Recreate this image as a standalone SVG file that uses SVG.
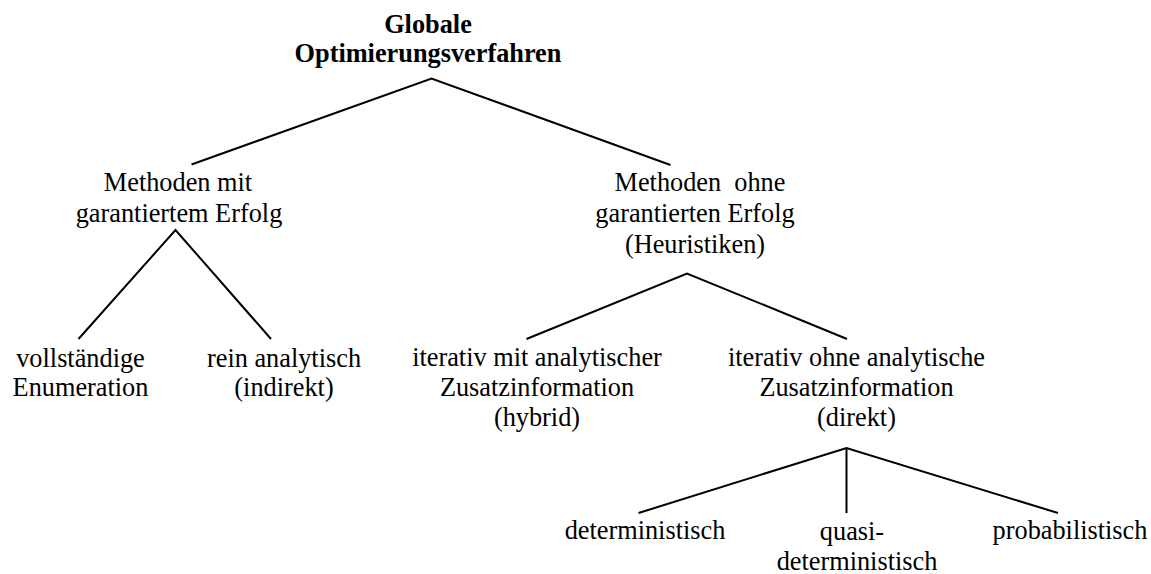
<svg xmlns="http://www.w3.org/2000/svg" width="1151" height="574" viewBox="0 0 1151 574">
  <style>
    text { font-family: "Liberation Serif", "Times New Roman", serif; font-size: 26.3px; fill: #000; text-anchor: middle; }
    .title { font-weight: bold; }
    .edge { stroke: #000; stroke-width: 2; fill: none; stroke-linecap: butt; }
  </style>
  <rect width="1151" height="574" fill="#fff"/>

  <!-- tree branches -->
  <g id="connectors">
    <polyline class="edge" points="191.5,164.5 431.5,78.5 670.5,165"/>
    <polyline class="edge" points="78.5,339 175.5,230 271,339"/>
    <polyline class="edge" points="526.5,339 687,273.5 847,339"/>
    <polyline class="edge" points="638.5,513 846.5,448 1058,513"/>
    <line class="edge" x1="846.5" y1="448" x2="846.5" y2="513"/>
  </g>

  <g id="root">
    <text class="title" x="428" y="32.5">Globale</text>
    <text class="title" x="428" y="61.5">Optimierungsverfahren</text>
  </g>

  <g id="garantiert">
    <text x="178" y="190.5">Methoden mit</text>
    <text x="179" y="221.5">garantiertem Erfolg</text>
  </g>

  <g id="heuristiken">
    <text x="700" y="190.5" xml:space="preserve">Methoden  ohne</text>
    <text x="695" y="221.5">garantierten Erfolg</text>
    <text x="695" y="253">(Heuristiken)</text>
  </g>

  <g id="enumeration">
    <text x="80.5" y="366.5">vollständige</text>
    <text x="80.5" y="396">Enumeration</text>
  </g>

  <g id="analytisch">
    <text x="284" y="366.5">rein analytisch</text>
    <text x="284" y="396">(indirekt)</text>
  </g>

  <g id="hybrid">
    <text x="537" y="365.5">iterativ mit analytischer</text>
    <text x="537" y="395.5">Zusatzinformation</text>
    <text x="537" y="425.5">(hybrid)</text>
  </g>

  <g id="direkt">
    <text x="856.5" y="365.5">iterativ ohne analytische</text>
    <text x="856.5" y="395.5">Zusatzinformation</text>
    <text x="856.5" y="425.5">(direkt)</text>
  </g>

  <g id="deterministisch">
    <text x="645" y="539">deterministisch</text>
  </g>

  <g id="quasideterministisch">
    <text x="852" y="540">quasi-</text>
    <text x="857" y="569.5">deterministisch</text>
  </g>

  <g id="probabilistisch">
    <text x="1070" y="539">probabilistisch</text>
  </g>
</svg>
